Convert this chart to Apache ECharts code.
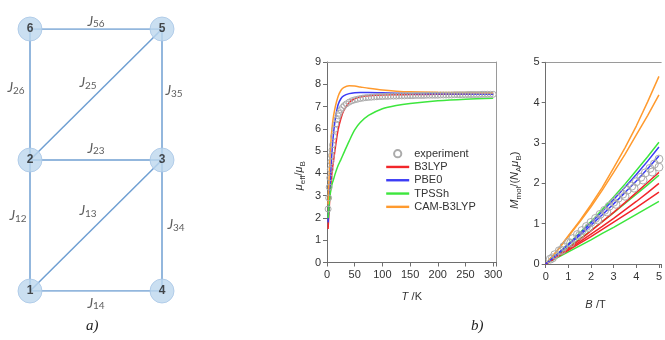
<!DOCTYPE html>
<html lang="en">
<head>
<meta charset="UTF-8">
<title>Exchange network and magnetic data</title>
<script src="https://cdn.jsdelivr.net/npm/echarts@6/dist/echarts.min.js"></script>
</head>
<body style="margin:0;background:#fff;">
<div id="chart" style="width:665px;height:340px;"></div>
<script>
// ---- a) exchange network ----
var nodeNames = ['1', '2', '3', '4', '5', '6'];
var nodeX = [0, 0, 1, 1, 1, 0];
var nodeY = [0, 1, 1, 0, 2, 2];
var edges = [[5, 6], [2, 6], [2, 5], [3, 5], [2, 3], [1, 2], [1, 3], [3, 4], [1, 4]];
var edgeNames = ['56', '26', '25', '35', '23', '12', '13', '34', '14'];

// ---- b) left: mu_eff vs T ----
var expT = [2, 3, 4, 5, 6, 7, 8, 9, 10, 12, 14, 16, 18, 20, 22, 25, 28, 31, 35, 40, 45, 50, 55, 60, 65, 70, 75, 80, 85, 90, 95,
    100, 105, 110, 115, 120, 125, 130, 135, 140, 145, 150, 155, 160, 165, 170, 175, 180, 185, 190, 195, 200,
    205, 210, 215, 220, 225, 230, 235, 240, 245, 250, 255, 260, 265, 270, 275, 280, 285, 290, 295, 300];
var expMu = [2.40, 2.90, 3.38, 3.80, 4.18, 4.52, 4.80, 5.05, 5.28, 5.66, 5.98, 6.22, 6.42, 6.58, 6.70, 6.85, 6.96, 7.04, 7.12, 7.20, 7.26, 7.30, 7.33, 7.36, 7.38, 7.40, 7.41, 7.42, 7.43, 7.44, 7.45,
    7.45, 7.46, 7.46, 7.47, 7.47, 7.47, 7.48, 7.48, 7.48, 7.49, 7.49, 7.49, 7.50, 7.50, 7.50, 7.50, 7.51, 7.51, 7.51, 7.51, 7.51,
    7.52, 7.52, 7.52, 7.52, 7.52, 7.53, 7.53, 7.53, 7.53, 7.53, 7.54, 7.54, 7.54, 7.54, 7.54, 7.55, 7.55, 7.55, 7.55, 7.55];
var simT = [2, 3, 4, 5, 6, 8, 10, 12, 15, 20, 25, 30, 40, 50, 60, 75, 100, 125, 150, 200, 250, 300];
var muB3LYP = [1.5, 2.0, 2.45, 2.85, 3.2, 3.8, 4.25, 4.6, 5.15, 5.95, 6.45, 6.8, 7.18, 7.35, 7.43, 7.48, 7.52, 7.53, 7.54, 7.55, 7.55, 7.55];
var muPBE0 = [1.8, 2.25, 2.75, 3.25, 3.7, 4.6, 5.3, 5.85, 6.45, 7.08, 7.35, 7.48, 7.58, 7.62, 7.63, 7.63, 7.62, 7.6, 7.59, 7.57, 7.56, 7.55];
var muTPSSh = [2.0, 2.35, 2.65, 2.9, 3.1, 3.4, 3.6, 3.75, 4.0, 4.35, 4.62, 4.9, 5.45, 5.95, 6.28, 6.6, 6.9, 7.05, 7.14, 7.26, 7.33, 7.37];
var muCAM = [2.6, 3.3, 3.95, 4.5, 5.0, 5.75, 6.25, 6.6, 7.0, 7.45, 7.72, 7.85, 7.93, 7.92, 7.88, 7.82, 7.74, 7.69, 7.66, 7.64, 7.63, 7.62];

// ---- b) right: M vs B ----
var magB = [0, 0.5, 1, 1.5, 2, 2.5, 3, 3.5, 4, 4.5, 5];
var mOrange1 = [0, 0.33, 0.7, 1.07, 1.47, 1.9, 2.38, 2.88, 3.42, 4.02, 4.65];
var mOrange2 = [0, 0.32, 0.68, 1.04, 1.42, 1.83, 2.27, 2.72, 3.2, 3.68, 4.19];
var mGreen1 = [0, 0.24, 0.5, 0.77, 1.05, 1.35, 1.66, 1.98, 2.32, 2.66, 3.02];
var mGreen2 = [0, 0.2, 0.41, 0.62, 0.83, 1.05, 1.27, 1.5, 1.73, 1.96, 2.2];
var mGreen3 = [0, 0.15, 0.3, 0.45, 0.6, 0.76, 0.91, 1.07, 1.23, 1.39, 1.55];
var mBlue1 = [0, 0.24, 0.49, 0.75, 1.02, 1.3, 1.6, 1.9, 2.22, 2.55, 2.9];
var mBlue2 = [0, 0.23, 0.47, 0.71, 0.96, 1.22, 1.49, 1.77, 2.06, 2.36, 2.68];
var mRed1 = [0, 0.19, 0.39, 0.6, 0.82, 1.05, 1.28, 1.52, 1.77, 2.02, 2.27];
var mRed2 = [0, 0.18, 0.36, 0.55, 0.74, 0.93, 1.13, 1.34, 1.55, 1.77, 2.0];
var mRed3 = [0, 0.17, 0.34, 0.51, 0.68, 0.86, 1.04, 1.22, 1.4, 1.59, 1.78];
var expB1 = [0.2, 0.4, 0.6, 0.8, 1.0, 1.2, 1.4, 1.6, 1.8, 2.0, 2.2, 2.4, 2.6, 2.8, 3.0, 3.2, 3.4, 3.6, 3.8, 4.0, 4.2, 4.4, 4.6, 4.8, 5.0];
var expM1 = [0.12, 0.23, 0.33, 0.43, 0.53, 0.63, 0.73, 0.83, 0.93, 1.03, 1.13, 1.23, 1.33, 1.43, 1.53, 1.63, 1.73, 1.83, 1.93, 2.04, 2.15, 2.26, 2.37, 2.48, 2.6];
var expB2 = [0.3, 0.7, 1.1, 1.5, 1.9, 2.3, 2.7, 3.1, 3.5, 3.9, 4.3, 4.7, 5.0];
var expM2 = [0.15, 0.34, 0.52, 0.71, 0.9, 1.09, 1.29, 1.48, 1.68, 1.88, 2.08, 2.28, 2.4];

// styles
var FONT = 'Liberation Sans';
var AXIS = '#6e6e6e';
var FRAME = '#9a9a9a';
var RED = '#f2262a', BLUE = '#3c3cf5', GREEN = '#3de63d', ORANGE = '#ff9a2e';
var edgeLabelOffset = [[0, -8], [-14, -7], [-8, -12], [12, -4], [0, -12], [-12, -10], [-8, -15], [14, -1], [0, 12]];

function pairs(xs, ys) {
    return xs.map(function (x, i) { return [x, ys[i]]; });
}

var myChart = echarts.init(document.getElementById('chart'));

var nameRich = {
    i: {fontStyle: 'italic', fontSize: 11, lineHeight: 16, color: '#333', fontFamily: FONT},
    n: {fontSize: 11, lineHeight: 16, color: '#333', fontFamily: FONT},
    s: {fontSize: 8, lineHeight: 9, verticalAlign: 'bottom', color: '#333', fontFamily: FONT}
};

function valueAxis(grid, extra) {
    var ax = {
        gridIndex: grid,
        type: 'value',
        axisLine: {show: true, onZero: false, lineStyle: {color: AXIS, width: 1}},
        axisTick: {show: true, length: 4, lineStyle: {color: AXIS}},
        axisLabel: {color: '#333', fontSize: 11, fontFamily: FONT, margin: 6},
        splitLine: {show: false}
    };
    return Object.assign(ax, extra);
}

function frameAxis(grid, pos, min, max) {
    return {
        gridIndex: grid, type: 'value', position: pos, min: min, max: max,
        axisLine: {show: true, onZero: false, lineStyle: {color: FRAME}},
        axisTick: {show: false}, axisLabel: {show: false}, splitLine: {show: false}
    };
}

function curve(name, xs, ys, color, xi, yi, smooth) {
    return {
        name: name, type: 'line', xAxisIndex: xi, yAxisIndex: yi,
        data: pairs(xs, ys), symbol: 'none', smooth: smooth,
        lineStyle: {color: color, width: 1.5}, itemStyle: {color: color}, z: 3
    };
}

function expSeries(name, xs, ys, size, xi, yi) {
    return {
        name: name, type: 'line', xAxisIndex: xi, yAxisIndex: yi,
        data: pairs(xs, ys), symbol: 'circle', symbolSize: size,
        lineStyle: {opacity: 0},
        itemStyle: {color: 'rgba(255,255,255,0)', borderColor: '#ababab', borderWidth: 1},
        z: 4
    };
}

var edgeData = edges.map(function (e) {
    var a = e[0] - 1, b = e[1] - 1;
    return {coords: [[nodeX[a], nodeY[a]], [nodeX[b], nodeY[b]]]};
});
var edgeLabelData = edges.map(function (e, k) {
    var a = e[0] - 1, b = e[1] - 1;
    return {
        value: [(nodeX[a] + nodeX[b]) / 2, (nodeY[a] + nodeY[b]) / 2],
        label: {offset: edgeLabelOffset[k], formatter: '{j|J}{s|' + edgeNames[k] + '}'}
    };
});
var nodeData = nodeNames.map(function (n, i) { return [nodeX[i], nodeY[i], n]; });

var lineLegend = function (n) { return {name: n, itemStyle: {opacity: 0}}; };

var option = {
    animation: false,
    backgroundColor: '#fff',
    grid: [
        {left: 327, top: 62, width: 169.5, height: 200.5},
        {left: 545.7, top: 62.3, right: 0, height: 201.7},
        {left: 30, top: 29, width: 132, height: 262}
    ],
    legend: {
        data: ['experiment', lineLegend('B3LYP'), lineLegend('PBE0'), lineLegend('TPSSh'), lineLegend('CAM-B3LYP')],
        orient: 'vertical', left: 380, top: 142,
        itemWidth: 23, itemHeight: 9, itemGap: 0,
        lineStyle: {width: 2.4},
        textStyle: {fontSize: 11, color: '#333', fontFamily: FONT, lineHeight: 13.3},
        selectedMode: false
    },
    xAxis: [
        valueAxis(0, {
            min: 0, max: 306, interval: 50,
            axisLabel: {color: '#333', fontSize: 11, fontFamily: FONT, margin: 7,
                formatter: function (v) { return v % 50 === 0 ? v : ''; }},
            name: '{i|T} {n|/K}', nameLocation: 'middle', nameGap: 26,
            nameTextStyle: {rich: nameRich}
        }),
        frameAxis(0, 'top', 0, 306),
        valueAxis(1, {
            min: 0, max: 5.1, interval: 1,
            axisLabel: {color: '#333', fontSize: 11, fontFamily: FONT, margin: 7,
                formatter: function (v) { return Math.abs(v - Math.round(v)) < 1e-6 ? v : ''; }},
            name: '{i|B} {n|/T}', nameLocation: 'middle', nameGap: 33,
            nameTextStyle: {rich: nameRich, padding: [0, 16, 0, 0]}
        }),
        frameAxis(1, 'top', 0, 5.1),
        {gridIndex: 2, type: 'value', min: 0, max: 1, show: false}
    ],
    yAxis: [
        valueAxis(0, {
            min: 0, max: 9, interval: 1,
            name: '{i|μ}{s|eff}{n|/}{i|μ}{s|B}', nameLocation: 'middle', nameRotate: 90, nameGap: 20,
            nameTextStyle: {rich: nameRich, padding: [0, 27, 0, 0]}
        }),
        frameAxis(0, 'right', 0, 9),
        valueAxis(1, {
            min: 0, max: 5, interval: 1,
            name: '{i|M}{s|mol}{n|/(}{i|N}{s|A}{i|μ}{s|B}{n|)}', nameLocation: 'middle', nameRotate: 90, nameGap: 23,
            nameTextStyle: {rich: nameRich, padding: [0, 34, 0, 0]}
        }),
        {gridIndex: 2, type: 'value', min: 0, max: 2, show: false}
    ],
    series: [
        curve('B3LYP', simT, muB3LYP, RED, 0, 0, 0.3),
        curve('PBE0', simT, muPBE0, BLUE, 0, 0, 0.3),
        curve('TPSSh', simT, muTPSSh, GREEN, 0, 0, 0.3),
        curve('CAM-B3LYP', simT, muCAM, ORANGE, 0, 0, 0.3),
        expSeries('experiment', expT, expMu, 6, 0, 0),

        expSeries('m_exp1', expB1, expM1, 8, 2, 2),
        expSeries('m_exp2', expB2, expM2, 8, 2, 2),
        curve('m_orange1', magB, mOrange1, ORANGE, 2, 2, false),
        curve('m_orange2', magB, mOrange2, ORANGE, 2, 2, false),
        curve('m_green1', magB, mGreen1, GREEN, 2, 2, false),
        curve('m_green2', magB, mGreen2, GREEN, 2, 2, false),
        curve('m_green3', magB, mGreen3, GREEN, 2, 2, false),
        curve('m_red1', magB, mRed1, RED, 2, 2, false),
        curve('m_red2', magB, mRed2, RED, 2, 2, false),
        curve('m_red3', magB, mRed3, RED, 2, 2, false),
        curve('m_blue1', magB, mBlue1, BLUE, 2, 2, false),
        curve('m_blue2', magB, mBlue2, BLUE, 2, 2, false),

        // network edges
        {
            type: 'lines', coordinateSystem: 'cartesian2d', xAxisIndex: 4, yAxisIndex: 3,
            data: edgeData, silent: true, z: 1,
            lineStyle: {color: '#6f9fd2', width: 1.5, opacity: 1, curveness: 0}
        },
        // edge labels
        {
            type: 'scatter', xAxisIndex: 4, yAxisIndex: 3, data: edgeLabelData,
            symbolSize: 1, itemStyle: {color: 'rgba(0,0,0,0)'}, silent: true, z: 2,
            label: {
                show: true, position: 'inside',
                rich: {
                    j: {fontStyle: 'italic', fontSize: 14, lineHeight: 16, color: '#333', fontFamily: 'Lato'},
                    s: {fontSize: 10, lineHeight: 10, verticalAlign: 'bottom', color: '#333', fontFamily: 'Lato'}
                }
            }
        },
        // nodes
        {
            type: 'scatter', xAxisIndex: 4, yAxisIndex: 3, data: nodeData,
            symbolSize: 24, silent: true, z: 5,
            itemStyle: {color: '#bdd7ee', borderColor: '#a7c6e6', borderWidth: 1},
            label: {
                show: true, position: 'inside', color: '#1e1e1e', fontSize: 12, fontWeight: 'bold', fontFamily: FONT,
                formatter: function (p) { return p.value[2]; }
            }
        }
    ],
    graphic: [
        {type: 'text', left: 86, top: 319, style: {text: 'a)', font: 'italic 15px "Liberation Serif"', fill: '#222'}},
        {type: 'text', left: 471, top: 319, style: {text: 'b)', font: 'italic 15px "Liberation Serif"', fill: '#222'}}
    ]
};

myChart.setOption(option);
</script>
</body>
</html>
